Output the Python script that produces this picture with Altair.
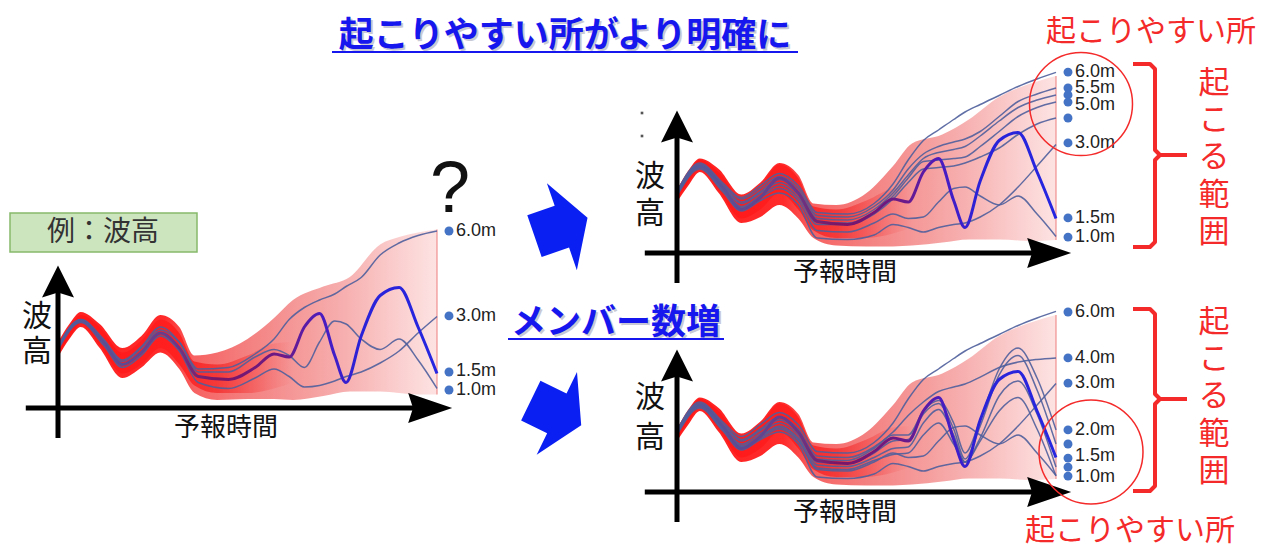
import altair as alt
import pandas as pd

# ------------------------------------------------------------------
# values
# ------------------------------------------------------------------
# forecast-time grid of the ensemble members (0 = start, 100 = end)
T = [0, 6, 12, 17, 22, 27, 32, 37, 45, 52, 57, 61, 65, 69, 73, 76, 80, 85, 90, 95, 100]

# highlighted (bold) member, common to the three panels
BOLD = [2.0, 2.9, 2.2, 1.45, 1.85, 2.5, 2.0, 1.05, 0.95, 1.35, 1.8, 1.7, 2.7, 3.15, 1.75, 0.85, 2.4, 3.75, 4.02, 2.7, 1.15]

# left panel (few members)
LEFT_A = [2.05, 2.95, 2.25, 1.55, 2.0, 2.6, 2.2, 1.3, 1.35, 1.8, 2.3, 2.95, 3.35, 3.6, 3.8, 4.05, 4.35, 5.1, 5.5, 5.75, 5.9]
LEFT_B = [1.95, 2.85, 2.1, 1.35, 1.75, 2.4, 1.9, 0.85, 0.65, 1.0, 1.3, 1.05, 0.7, 0.75, 0.9, 1.05, 1.2, 1.5, 1.9, 2.5, 3.05]
LEFT_C = [2.05, 2.95, 2.3, 1.6, 2.05, 2.7, 2.2, 1.2, 1.2, 1.7, 1.95, 1.75, 1.35, 2.2, 2.9, 2.8, 2.3, 1.95, 2.3, 1.6, 0.65]

# right panels (more members)
RIGHT_A = [2.05, 3.0, 2.35, 1.85, 2.25, 2.65, 2.25, 1.35, 1.3, 1.65, 2.3, 3.1, 3.75, 4.1, 4.45, 4.7, 4.95, 5.25, 5.55, 5.8, 6.02]
RIGHT_B = [1.9, 2.8, 2.05, 1.4, 1.75, 2.0, 1.6, 0.5, 0.45, 0.6, 0.95, 0.85, 0.7, 0.85, 0.95, 1.0, 1.2, 1.6, 2.2, 2.9, 3.62]
RIGHT_C = [1.95, 2.85, 2.1, 1.5, 1.85, 2.15, 1.75, 0.75, 0.7, 1.0, 1.3, 1.15, 1.2, 1.7, 2.15, 2.2, 1.9, 1.6, 1.9, 1.3, 0.55]
TOP_U1 = [2.0, 2.95, 2.3, 1.8, 2.15, 2.55, 2.15, 1.25, 1.2, 1.55, 2.1, 2.8, 3.3, 3.55, 3.7, 3.8, 4.05, 4.55, 5.05, 5.3, 5.5]
TOP_U2 = [2.0, 2.9, 2.25, 1.7, 2.05, 2.45, 2.05, 1.15, 1.1, 1.45, 2.0, 2.6, 3.15, 3.35, 3.45, 3.55, 3.9, 4.4, 4.85, 5.1, 5.27]
TOP_U3 = [1.95, 2.9, 2.2, 1.65, 2.0, 2.35, 1.95, 1.05, 1.0, 1.35, 1.9, 2.5, 3.05, 3.1, 3.15, 3.2, 3.55, 4.05, 4.55, 4.85, 5.03]
TOP_U4 = [1.95, 2.85, 2.15, 1.55, 1.9, 2.25, 1.85, 0.95, 0.95, 1.3, 1.8, 2.35, 2.8, 2.85, 2.9, 3.0, 3.2, 3.5, 3.95, 4.3, 4.5]
BOT_D = [2.0, 2.95, 2.3, 1.75, 2.1, 2.5, 2.1, 1.2, 1.15, 1.5, 2.0, 2.55, 3.0, 3.35, 3.5, 3.6, 3.83, 4.15, 4.33, 4.42, 4.47]
BOT_E = [2.0, 2.9, 2.25, 1.7, 2.05, 2.4, 2.0, 1.1, 1.05, 1.45, 1.9, 1.9, 2.7, 3.05, 2.3, 1.3, 2.4, 4.1, 4.8, 3.8, 2.07]
BOT_F = [1.95, 2.9, 2.2, 1.6, 1.95, 2.3, 1.9, 1.0, 0.95, 1.3, 1.7, 1.75, 2.6, 2.95, 2.1, 1.1, 2.2, 3.9, 4.55, 3.4, 1.6]
BOT_G = [1.95, 2.85, 2.15, 1.55, 1.85, 2.2, 1.8, 0.9, 0.85, 1.15, 1.45, 1.5, 2.3, 2.75, 1.9, 1.0, 1.8, 3.2, 3.7, 2.6, 0.83]
BOT_H = [1.95, 2.85, 2.1, 1.5, 1.8, 2.1, 1.7, 0.8, 0.75, 1.05, 1.25, 1.3, 1.9, 2.3, 1.6, 1.0, 1.7, 2.7, 3.15, 2.1, 0.53]

# spread envelope (pink band)
TE = [0, 3, 6, 11, 17, 22, 27, 32, 36, 42, 50, 57, 62, 70, 77, 85, 90, 95, 100]
LEFT_HI = [2.2, 2.8, 3.2, 2.8, 2.0, 2.4, 3.1, 2.7, 1.75, 1.85, 2.3, 3.0, 3.6, 4.05, 4.37, 5.45, 5.7, 5.85, 5.95]
LEFT_LO = [1.7, 2.3, 2.7, 2.0, 1.0, 1.35, 1.85, 1.3, 0.5, 0.27, 0.3, 0.3, 0.27, 0.4, 0.55, 0.55, 0.5, 0.45, 0.45]
RIGHT_HI = [2.1, 2.75, 3.15, 2.8, 1.95, 2.35, 3.0, 2.6, 1.65, 1.6, 2.0, 2.9, 3.65, 3.95, 4.45, 5.2, 5.5, 5.72, 5.9]
RIGHT_LO = [1.7, 2.25, 2.7, 2.0, 1.0, 1.2, 1.6, 1.15, 0.5, 0.25, 0.22, 0.22, 0.25, 0.35, 0.45, 0.45, 0.42, 0.4, 0.43]
# darker core of the band in the early forecast
TI = [0, 3, 6, 11, 17, 22, 27, 32, 36, 42, 50, 57, 62]
CORE_HI = [2.12, 2.7, 3.1, 2.7, 1.85, 2.25, 2.95, 2.5, 1.55, 1.45, 1.75, 2.15, 2.2]
CORE_LO = [1.78, 2.35, 2.8, 2.1, 1.15, 1.45, 2.0, 1.45, 0.75, 0.5, 0.5, 0.65, 0.85]

# end points and their labels
LEFT_DOTS = [5.9, 3.07, 1.2, 0.6]
LEFT_LABELS = ["6.0m", "3.0m", "1.5m", "1.0m"]
LEFT_LABEL_H = [5.9, 3.07, 1.22, 0.6]
TOP_DOTS = [6.03, 5.5, 5.27, 5.03, 4.5, 3.67, 1.17, 0.53]
TOP_LABELS = ["6.0m", "5.5m", "5.0m", "3.0m", "1.5m", "1.0m"]
TOP_LABEL_H = [6.03, 5.5, 4.92, 3.67, 1.17, 0.53]
BOT_DOTS = [6.0, 4.47, 3.63, 2.07, 1.6, 1.13, 0.83, 0.53]
BOT_LABELS = ["6.0m", "4.0m", "3.0m", "2.0m", "1.5m", "1.0m"]
BOT_LABEL_H = [6.0, 4.47, 3.63, 2.07, 1.2, 0.5]

# texts
TITLE = "起こりやすい所がより明確に"
MIDDLE = "メンバー数増"
EXAMPLE = "例：波高"
XLABEL = "予報時間"
YLABEL = ["波", "高"]
RANGE_TXT = ["起", "こ", "る", "範", "囲"]
LIKELY = "起こりやすい所"
QUESTION = "?"

# ------------------------------------------------------------------
# layout (page pixels) and styles
# ------------------------------------------------------------------
W, H = 1265, 538
PAGE_L, PAGE_T = 8, 8
PAGE_R, PAGE_B = PAGE_L + W, PAGE_T + H
SX, SY = 3.79, 30.0            # pixels per time unit / per height unit
LEFT_O, TOP_O, BOT_O = (58, 408), (677, 253), (677, 492)

JP = "Noto Sans CJK JP"
LAT = "Liberation Sans"
RED = "#f42a2a"
BLUE_TXT = "#1616ee"
ARROW_BLUE = "#0a20f2"
DOT = "#4472c4"
THIN = "#4f5f9c"

OUTER_GRAD = alt.Gradient(gradient="linear", x1=0, x2=1, y1=0, y2=0, stops=[
    alt.GradientStop(color="#ff2020", offset=0),
    alt.GradientStop(color="#ff2a2a", offset=0.28),
    alt.GradientStop(color="#f76262", offset=0.36),
    alt.GradientStop(color="#f48080", offset=0.5),
    alt.GradientStop(color="#f59797", offset=0.62),
    alt.GradientStop(color="#f7b0b0", offset=0.76),
    alt.GradientStop(color="#fbcfcf", offset=0.9),
    alt.GradientStop(color="#fde3e3", offset=1)])
CORE_GRAD = alt.Gradient(gradient="linear", x1=0, x2=1, y1=0, y2=0, stops=[
    alt.GradientStop(color="#ff1515", offset=0),
    alt.GradientStop(color="#ff2020", offset=0.5),
    alt.GradientStop(color="#f43a3a", offset=0.68),
    alt.GradientStop(color="rgba(244,70,70,0.45)", offset=0.85),
    alt.GradientStop(color="rgba(244,90,90,0)", offset=1)])
BOLD_GRAD = alt.Gradient(gradient="linear", x1=0, x2=1, y1=0, y2=0, stops=[
    alt.GradientStop(color="#4f5f9c", offset=0),
    alt.GradientStop(color="#6a3a8a", offset=0.3),
    alt.GradientStop(color="#7a1666", offset=0.42),
    alt.GradientStop(color="#6a1a8a", offset=0.6),
    alt.GradientStop(color="#4a1cc0", offset=0.7),
    alt.GradientStop(color="#2a22d8", offset=0.8),
    alt.GradientStop(color="#2626e0", offset=1)])

UP_HEAD = "M0,-1L1,1L0,0.7L-1,1Z"
RIGHT_HEAD = "M1,0L-1,-0.68L-0.78,0L-1,0.68Z"
BLOCK_ARROW = "M-0.61,-0.48L0.02,-0.48L0.02,-1L0.61,0L0.02,1L0.02,0.48L-0.61,0.48Z"

CX = alt.Scale(domain=[PAGE_L, PAGE_R], nice=False, zero=False)
CY = alt.Scale(domain=[PAGE_T, PAGE_B], nice=False, zero=False, reverse=True)


def cx(f):
    return alt.X(f, type="quantitative", scale=CX, axis=None)


def cy(f):
    return alt.Y(f, type="quantitative", scale=CY, axis=None)


def ctext(txts, xs, ys, **kw):
    df = pd.DataFrame({"x": xs, "y": ys, "s": txts})
    return alt.Chart(df).mark_text(**kw).encode(x=cx("x"), y=cy("y"), text="s:N")


def polyline(points, seg, **kw):
    df = pd.DataFrame({"x": [p[0] for p in points], "y": [p[1] for p in points],
                       "i": list(range(len(points))), "g": seg})
    return alt.Chart(df).mark_line(**kw).encode(x=cx("x"), y=cy("y"), order="i:Q", detail="g:N")


def panel(origin, members, env_hi, env_lo, dots, labels, label_h):
    ox, oy = origin
    xs = alt.Scale(domain=[(PAGE_L - ox) / SX, (PAGE_R - ox) / SX], nice=False, zero=False)
    ys = alt.Scale(domain=[(oy - PAGE_B) / SY, (oy - PAGE_T) / SY], nice=False, zero=False)

    def X(f):
        return alt.X(f, type="quantitative", scale=xs, axis=None)

    def Y(f):
        return alt.Y(f, type="quantitative", scale=ys, axis=None)

    out = []
    env = pd.DataFrame({"t": TE, "hi": env_hi, "lo": env_lo})
    out.append(alt.Chart(env).mark_area(interpolate="monotone", color=OUTER_GRAD)
               .encode(x=X("t"), y=Y("lo"), y2="hi"))
    core = pd.DataFrame({"t": TI, "hi": CORE_HI, "lo": CORE_LO})
    out.append(alt.Chart(core).mark_area(interpolate="monotone", color=CORE_GRAD)
               .encode(x=X("t"), y=Y("lo"), y2="hi"))
    edge = pd.DataFrame({"t": [TE[-1]], "hi": [env_hi[-1]], "lo": [env_lo[-1]]})
    out.append(alt.Chart(edge).mark_rule(color="#ee7777", strokeWidth=1.2, opacity=0.8)
               .encode(x=X("t"), y=Y("lo"), y2="hi"))
    rows = [(name, t, h) for name, vals in members.items() for t, h in zip(T, vals)]
    lines = pd.DataFrame(rows, columns=["m", "t", "h"])
    out.append(alt.Chart(lines).mark_line(interpolate="monotone", color=THIN, strokeWidth=1.5, opacity=0.9)
               .encode(x=X("t"), y=Y("h"), detail="m:N"))
    bold = pd.DataFrame({"t": T, "h": BOLD})
    out.append(alt.Chart(bold).mark_line(interpolate="monotone", stroke=BOLD_GRAD, strokeWidth=3)
               .encode(x=X("t"), y=Y("h")))
    dd = pd.DataFrame({"t": [T[-1]] * len(dots), "h": dots})
    out.append(alt.Chart(dd).mark_circle(size=80, color=DOT, opacity=1, xOffset=12)
               .encode(x=X("t"), y=Y("h")))
    ld = pd.DataFrame({"t": [T[-1]] * len(labels), "h": label_h, "s": labels})
    out.append(alt.Chart(ld).mark_text(align="left", baseline="middle", xOffset=19, font=LAT,
                                       fontSize=18, color="#222")
               .encode(x=X("t"), y=Y("h"), text="s:N"))
    # axes drawn as arrows
    ay = pd.DataFrame({"t": [0.0], "h0": [-1.0], "h1": [4.3]})
    out.append(alt.Chart(ay).mark_rule(color="black", strokeWidth=5)
               .encode(x=X("t"), y=Y("h0"), y2="h1"))
    ax = pd.DataFrame({"t0": [-8.5], "t1": [98.5], "h": [0.0]})
    out.append(alt.Chart(ax).mark_rule(color="black", strokeWidth=5)
               .encode(x=X("t0"), x2="t1", y=Y("h")))
    hy = pd.DataFrame({"t": [0.0], "h": [4.22]})
    out.append(alt.Chart(hy).mark_point(shape=UP_HEAD, size=1024, filled=True, color="black",
                                        opacity=1, strokeWidth=0)
               .encode(x=X("t"), y=Y("h")))
    hx = pd.DataFrame({"t": [98.2], "h": [0.0]})
    out.append(alt.Chart(hx).mark_point(shape=RIGHT_HEAD, size=1936, filled=True, color="black",
                                        opacity=1, strokeWidth=0)
               .encode(x=X("t"), y=Y("h")))
    return out


layers = []
layers += panel(LEFT_O, {"A": LEFT_A, "B": LEFT_B, "C": LEFT_C}, LEFT_HI, LEFT_LO,
                LEFT_DOTS, LEFT_LABELS, LEFT_LABEL_H)
layers += panel(TOP_O, {"A": RIGHT_A, "U1": TOP_U1, "U2": TOP_U2, "U3": TOP_U3, "U4": TOP_U4,
                        "B": RIGHT_B, "C": RIGHT_C}, RIGHT_HI, RIGHT_LO,
                TOP_DOTS, TOP_LABELS, TOP_LABEL_H)
layers += panel(BOT_O, {"A": RIGHT_A, "D": BOT_D, "B": RIGHT_B, "E": BOT_E, "F": BOT_F,
                        "G": BOT_G, "H": BOT_H, "C": RIGHT_C}, RIGHT_HI, RIGHT_LO,
                BOT_DOTS, BOT_LABELS, BOT_LABEL_H)

# axis titles
layers.append(ctext([XLABEL] * 3, [226, 845, 845], [428, 273, 513], font=JP, fontSize=26,
                    color="#111", baseline="middle"))
layers.append(ctext(YLABEL * 3, [37, 37, 650, 650, 650, 650], [317, 352, 177, 214, 398, 438],
                    font=JP, fontSize=30, color="#111", baseline="middle"))
layers.append(alt.Chart(pd.DataFrame({"x": [642, 642], "y": [113, 136]}))
              .mark_point(shape="square", size=7, filled=True, color="#555", opacity=1)
              .encode(x=cx("x"), y=cy("y")))

# example box
layers.append(alt.Chart(pd.DataFrame({"x": [10], "x2": [197], "y": [213], "y2": [252]}))
              .mark_rect(fill="#cde5bf", stroke="#86b96c", strokeWidth=1.5)
              .encode(x=cx("x"), x2="x2", y=cy("y"), y2="y2"))
layers.append(ctext([EXAMPLE], [103], [233], font=JP, fontSize=28, color="#333", baseline="middle"))
layers.append(ctext([QUESTION], [450], [212], font=LAT, fontSize=72, color="#111",
                    baseline="alphabetic"))

# blue headings with shadow and underline
layers.append(ctext([TITLE, MIDDLE], [567, 618], [38, 325], font=JP, fontSize=35, fontWeight="bold",
                    color="#7a7a9a", opacity=0.4, baseline="middle"))
layers.append(ctext([TITLE, MIDDLE], [565, 616], [36, 323], font=JP, fontSize=35, fontWeight="bold",
                    color=BLUE_TXT, baseline="middle"))
layers.append(alt.Chart(pd.DataFrame({"x": [332, 508], "x2": [798, 724], "y": [52, 339]}))
              .mark_rule(color=BLUE_TXT, strokeWidth=2)
              .encode(x=cx("x"), x2="x2", y=cy("y")))

# blue block arrows
layers.append(alt.Chart(pd.DataFrame({"x": [561], "y": [227]}))
              .mark_point(shape=BLOCK_ARROW, size=8464, angle=341, filled=True, color=ARROW_BLUE,
                          opacity=1, strokeWidth=0)
              .encode(x=cx("x"), y=cy("y")))
layers.append(alt.Chart(pd.DataFrame({"x": [556], "y": [413]}))
              .mark_point(shape=BLOCK_ARROW, size=8464, angle=26, filled=True, color=ARROW_BLUE,
                          opacity=1, strokeWidth=0)
              .encode(x=cx("x"), y=cy("y")))

# red annotations
layers.append(alt.Chart(pd.DataFrame({"x": [1081, 1091], "y": [104, 452], "d": [10609, 10816]}))
              .mark_point(shape="circle", filled=False, color=RED, strokeWidth=1.5, opacity=1)
              .encode(x=cx("x"), y=cy("y"), size=alt.Size("d:Q", scale=None)))
top_b = [(1133, 64), (1150, 64), (1155, 69), (1155, 150), (1160, 155), (1187, 155),
         (1160, 155), (1155, 160), (1155, 242), (1150, 247), (1133, 247)]
bot_b = [(1133, 309), (1150, 309), (1155, 314), (1155, 394), (1160, 399), (1187, 399),
         (1160, 399), (1155, 404), (1155, 486), (1150, 491), (1133, 491)]
layers.append(polyline(top_b, ["a"] * 6 + ["b"] * 5, color=RED, strokeWidth=4, strokeJoin="round"))
layers.append(polyline(bot_b, ["a"] * 6 + ["b"] * 5, color=RED, strokeWidth=4, strokeJoin="round"))
layers.append(ctext(RANGE_TXT * 2, [1214] * 10,
                    [84, 121, 158, 196, 233, 323, 360, 397, 435, 472],
                    font=JP, fontSize=31, color=RED, baseline="middle"))
layers.append(ctext([LIKELY, LIKELY], [1151, 1130], [32, 531], font=JP, fontSize=30, color=RED,
                    baseline="middle"))

chart = (alt.layer(*layers)
         .resolve_scale(x="independent", y="independent")
         .properties(width=W, height=H, padding=0, autosize=alt.AutoSizeParams(type="none"),
                     background="white")
         .configure_view(stroke=None))

chart.save("out.html", embed_options={"renderer": "svg", "actions": False})
